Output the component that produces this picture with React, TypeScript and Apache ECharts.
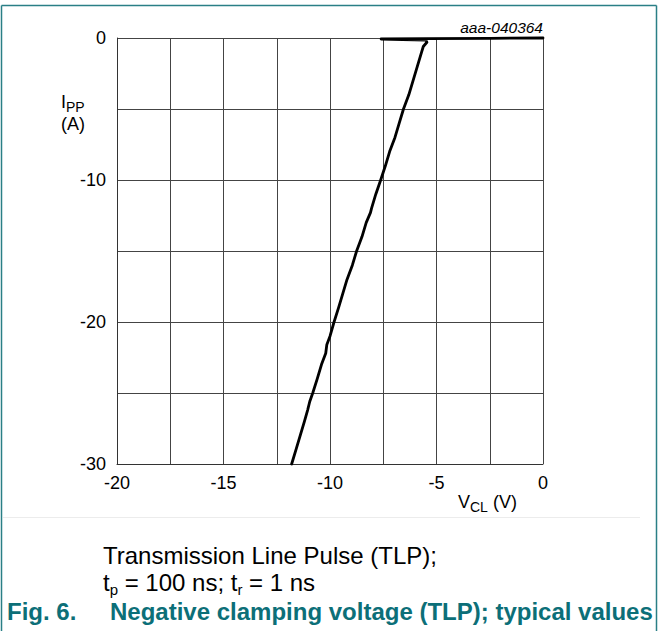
import React, { useEffect, useRef } from "react";
import * as echarts from "echarts";

// Tick labels shown on the axes
const xLabelValues = [-20, -15, -10, -5, 0];
const yLabelValues = [0, -10, -20, -30];

// TLP curve: clamping voltage VCL (V) vs. peak pulse current IPP (A)
const vcl = [
  0, -2.5, -5.4, -7.6, -6.6, -5.5,
  -5.45, -5.62, -5.7, -5.9, -6.1, -6.3, -6.55, -6.75, -6.95, -7.2, -7.4,
  -7.62, -7.85, -8.05, -8.1, -8.3, -8.5, -8.75, -8.95, -9.2, -9.4,
  -9.6, -9.81, -10.0, -10.15, -10.2, -10.4, -10.6, -10.81, -10.95,
  -11.05, -11.2, -11.4, -11.6, -11.8,
];
const ipp = [
  0, -0.02, -0.04, -0.07, -0.11, -0.14,
  -0.3, -0.6, -1, -2, -3, -4, -5, -6, -7, -8, -9,
  -10, -11, -12, -12.3, -13, -14, -15, -16, -17, -18,
  -19, -20, -21, -21.6, -22.2, -23, -24, -25, -25.6,
  -26.2, -27, -28, -29, -30,
];

export default function App() {
  const ref = useRef<HTMLDivElement>(null);

  useEffect(() => {
    if (!ref.current) return;
    const chart = echarts.init(ref.current, undefined, { renderer: "svg" });
    const font = "'Liberation Sans', Arial, sans-serif";
    const teal = "#0c6f78";
    const gridColor = "#444444";
    const txt = (x: number, y: number, text: string, size: number, extra: any = {}) => ({
      type: "text",
      x,
      y,
      style: { text, fontFamily: font, fontSize: size, fill: "#000", textVerticalAlign: "middle", ...extra },
    });
    // rich text with subscripts: main size m, subscript size s, drop d px
    const sub = (x: number, y: number, text: string, m: number, s: number, d: number) => ({
      type: "text",
      x,
      y,
      style: {
        text,
        fill: "#000",
        textVerticalAlign: "middle",
        rich: {
          m: { fontFamily: font, fontSize: m, lineHeight: m, verticalAlign: "top", fill: "#000" },
          s: { fontFamily: font, fontSize: s, lineHeight: s, padding: [m - s + d, 0, 0, 0], verticalAlign: "top", fill: "#000" },
        },
      },
    });

    chart.setOption({
      animation: false,
      backgroundColor: "#ffffff",
      grid: { left: 117, top: 38, width: 426, height: 426, containLabel: false },
      xAxis: {
        type: "value",
        min: -20,
        max: 0,
        interval: 2.5,
        axisLine: { show: true, onZero: false, lineStyle: { color: "#333", width: 1 } },
        axisTick: { show: false },
        splitLine: { show: true, lineStyle: { color: gridColor, width: 1 } },
        axisLabel: {
          margin: 10,
          fontFamily: font,
          fontSize: 18,
          color: "#000",
          formatter: (v: number) => (xLabelValues.includes(v) ? String(v) : ""),
        },
      },
      yAxis: {
        type: "value",
        min: -30,
        max: 0,
        interval: 5,
        axisLine: { show: true, onZero: false, lineStyle: { color: "#333", width: 1 } },
        axisTick: { show: false },
        splitLine: { show: true, lineStyle: { color: gridColor, width: 1 } },
        axisLabel: {
          margin: 11,
          fontFamily: font,
          fontSize: 18,
          color: "#000",
          formatter: (v: number) => (yLabelValues.includes(v) ? String(v) : ""),
        },
      },
      series: [
        {
          type: "line",
          data: vcl.map((v, i) => [v, ipp[i]]),
          showSymbol: false,
          smooth: false,
          lineStyle: { color: "#000", width: 2.8, cap: "round", join: "round" },
          clip: false,
        },
      ],
      graphic: [
        // frame
        { type: "line", shape: { x1: 1.5, y1: 5.5, x2: 656.5, y2: 5.5 }, style: { stroke: "#2a7f86", lineWidth: 1.5 } },
        { type: "line", shape: { x1: 1.5, y1: 5.5, x2: 1.5, y2: 631 }, style: { stroke: "#2a7f86", lineWidth: 1.5 } },
        { type: "line", shape: { x1: 656.5, y1: 5.5, x2: 656.5, y2: 631 }, style: { stroke: "#2a7f86", lineWidth: 1.5 } },
        { type: "line", shape: { x1: 3, y1: 517.5, x2: 640, y2: 517.5 }, style: { stroke: "#ececec", lineWidth: 1 } },
        // figure id
        txt(543, 27, "aaa-040364", 15.5, { fontStyle: "italic", textAlign: "right" }),
        // y axis title
        sub(61, 102, "{m|I}{s|PP}", 18, 14, 3),
        txt(61, 124, "(A)", 18),
        // x axis title
        sub(458, 502, "{m|V}{s|CL}{m| (V)}", 18, 14, 3),
        // conditions
        txt(103, 555, "Transmission Line Pulse (TLP);", 24),
        sub(103, 582, "{m|t}{s|p}{m| = 100 ns; t}{s|r}{m| = 1 ns}", 24, 15, 3),
        // caption
        txt(7, 611, "Fig. 6.", 24, { fontWeight: "bold", fill: teal }),
        txt(110, 611, "Negative clamping voltage (TLP); typical values", 24, { fontWeight: "bold", fill: teal }),
      ],
    });

    return () => chart.dispose();
  }, []);

  return (
    <div
      ref={ref}
      style={{ position: "fixed", left: 0, top: 0, width: 662, height: 631, background: "#fff" }}
    />
  );
}
